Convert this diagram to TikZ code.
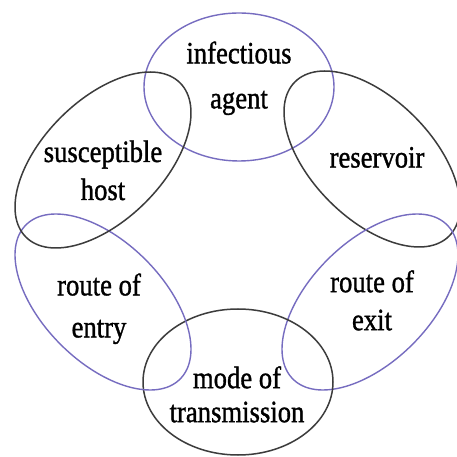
\documentclass[tikz,border=0pt]{standalone}
\usepackage{fontspec}
\setmainfont{Liberation Serif}
\newfontfamily\lblfont[FakeBold=1.2]{Liberation Serif}
\definecolor{ringblue}{RGB}{118,108,192}
\definecolor{ringdark}{RGB}{60,60,60}
\tikzset{
  bluering/.style={draw=ringblue, line width=1.4pt},
  darkring/.style={draw=ringdark, line width=1.5pt},
  lbl/.style={inner sep=0pt, align=center, xscale=0.86, text=black},
}
\begin{document}
\begin{tikzpicture}[x=1pt,y=1pt]
\useasboundingbox[fill=white] (0,0) rectangle (457,457);
% rings (image coords y -> 457-y)
\draw[bluering] (239,370) ellipse [x radius=95, y radius=74];
\draw[darkring, rotate around={-45:(372,298)}] (372,298) ellipse [x radius=109, y radius=60];
\draw[bluering, rotate around={45:(370,155)}] (370,155) ellipse [x radius=109, y radius=60];
\draw[darkring] (238,75) ellipse [x radius=95, y radius=73];
\draw[bluering, rotate around={-45:(103,155)}] (103,155) ellipse [x radius=109, y radius=60];
\draw[darkring, rotate around={45:(103,297)}] (103,297) ellipse [x radius=109, y radius=60];
% labels
\node[lbl, font=\lblfont\fontsize{31}{45}\selectfont] (agent) at (239,378.7) {infectious\\agent};
\node[lbl, font=\lblfont\fontsize{31}{38}\selectfont] (reservoir) at (377,299.6) {reservoir};
\node[lbl, font=\lblfont\fontsize{31}{38}\selectfont] (exit) at (372,156.6) {route of\\exit};
\node[lbl, font=\lblfont\fontsize{31}{34}\selectfont] (mode) at (237,62.6) {mode of\\transmission};
\node[lbl, font=\lblfont\fontsize{31}{42}\selectfont] (entry) at (99,148.2) {route of\\entry};
\node[lbl, font=\lblfont\fontsize{31}{38}\selectfont] (host) at (103,286.6) {susceptible\\host};
\end{tikzpicture}
\end{document}
